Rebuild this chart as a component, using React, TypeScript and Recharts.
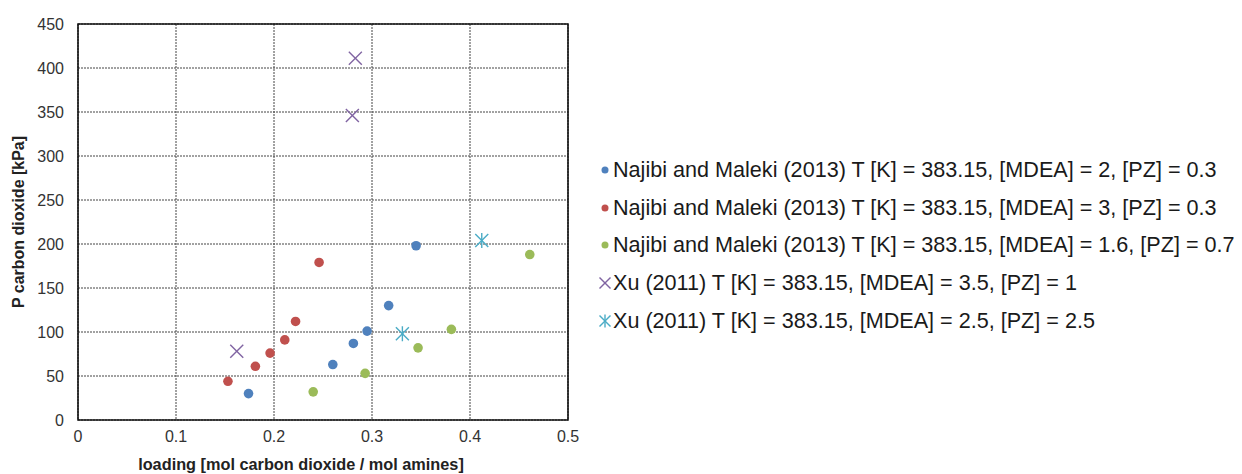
import { ScatterChart, Scatter, XAxis, YAxis, CartesianGrid, ReferenceArea } from "recharts";

const najibi2 = [
  { x: 0.174, y: 30 },
  { x: 0.26, y: 63 },
  { x: 0.281, y: 87 },
  { x: 0.295, y: 101 },
  { x: 0.317, y: 130 },
  { x: 0.345, y: 198 },
];
const najibi3 = [
  { x: 0.153, y: 44 },
  { x: 0.181, y: 61 },
  { x: 0.196, y: 76 },
  { x: 0.211, y: 91 },
  { x: 0.222, y: 112 },
  { x: 0.246, y: 179 },
];
const najibi16 = [
  { x: 0.24, y: 32 },
  { x: 0.293, y: 53 },
  { x: 0.347, y: 82 },
  { x: 0.381, y: 103 },
  { x: 0.461, y: 188 },
];
const xu35 = [
  { x: 0.162, y: 78 },
  { x: 0.28, y: 346 },
  { x: 0.283, y: 411 },
];
const xu25 = [
  { x: 0.331, y: 98 },
  { x: 0.412, y: 204 },
];

const xTicks = [0, 0.1, 0.2, 0.3, 0.4, 0.5];
const yTicks = [0, 50, 100, 150, 200, 250, 300, 350, 400, 450];

const series = [
  { name: "Najibi and Maleki (2013) T [K] = 383.15, [MDEA] = 2, [PZ] = 0.3", data: najibi2, color: "#4F81BD", mark: "dot" },
  { name: "Najibi and Maleki (2013) T [K] = 383.15, [MDEA] = 3, [PZ] = 0.3", data: najibi3, color: "#C0504D", mark: "dot" },
  { name: "Najibi and Maleki (2013) T [K] = 383.15, [MDEA] = 1.6, [PZ] = 0.7", data: najibi16, color: "#9BBB59", mark: "dot" },
  { name: "Xu (2011) T [K] = 383.15, [MDEA] = 3.5, [PZ] = 1", data: xu35, color: "#8064A2", mark: "x" },
  { name: "Xu (2011) T [K] = 383.15, [MDEA] = 2.5, [PZ] = 2.5", data: xu25, color: "#4BACC6", mark: "star" },
];

const font = "'Liberation Sans', Arial, sans-serif";

function Marker({ cx, cy, mark, color, r }: any) {
  if (mark === "dot") return <circle cx={cx} cy={cy} r={r} fill={color} />;
  const d = r;
  return (
    <g stroke={color} strokeWidth={1.4}>
      <line x1={cx - d} y1={cy - d} x2={cx + d} y2={cy + d} />
      <line x1={cx - d} y1={cy + d} x2={cx + d} y2={cy - d} />
      {mark === "star" && <line x1={cx} y1={cy - d - 1} x2={cx} y2={cy + d + 1} />}
    </g>
  );
}

function LegendBox() {
  return (
    <div style={{ position: "absolute", left: 590, top: 143, fontFamily: font, fontSize: 21.6, color: "#1a1a1a" }}>
      {series.map((s) => (
        <div key={s.name} style={{ display: "flex", alignItems: "center", height: 37.8, whiteSpace: "nowrap" }}>
          <svg width={14} height={14} style={{ marginRight: 1 }}>
            <Marker cx={7} cy={7} mark={s.mark} color={s.color} r={s.mark === "dot" ? 3.5 : 5.5} />
          </svg>
          <span>{s.name}</span>
        </div>
      ))}
    </div>
  );
}

export default function App() {
  return (
    <div style={{ position: "relative", width: 1234, height: 466 }}>
      <ScatterChart width={1234} height={466} margin={{ top: 16, right: 674, bottom: 12, left: 20 }}>
        <CartesianGrid stroke="#444" strokeDasharray="2 1" strokeWidth={1} />
        <XAxis
          type="number"
          dataKey="x"
          domain={[0, 0.5]}
          ticks={xTicks}
          tickLine={false}
          axisLine={false}
          tickSize={0}
          tickMargin={11}
          height={42}
          tick={{ fontFamily: font, fontSize: 16, fill: "#333" }}
          label={{ value: "loading [mol carbon dioxide / mol amines]", position: "insideBottom", offset: -8, dx: -22, style: { fontFamily: font, fontSize: 16.3, fontWeight: "bold", fill: "#222" } }}
        />
        <YAxis
          type="number"
          dataKey="y"
          domain={[0, 450]}
          ticks={yTicks}
          tickLine={false}
          axisLine={false}
          tickSize={0}
          tickMargin={14}
          width={50}
          tick={{ fontFamily: font, fontSize: 16, fill: "#333" }}
          label={{ value: "P carbon dioxide [kPa]", angle: -90, position: "insideLeft", offset: -10, style: { fontFamily: font, fontSize: 16, fontWeight: "bold", fill: "#222", textAnchor: "middle" } }}
        />
        <ReferenceArea x1={0} x2={0.5} y1={0} y2={450} fill="none" stroke="#111" strokeWidth={1.6} ifOverflow="visible" />
        {series.map((s) => (
          <Scatter
            key={s.name}
            name={s.name}
            data={s.data}
            isAnimationActive={false}
            shape={(p: any) => <Marker cx={p.cx} cy={p.cy} mark={s.mark} color={s.color} r={s.mark === "dot" ? 4.8 : 6.5} />}
          />
        ))}
      </ScatterChart>
      <LegendBox />
    </div>
  );
}
